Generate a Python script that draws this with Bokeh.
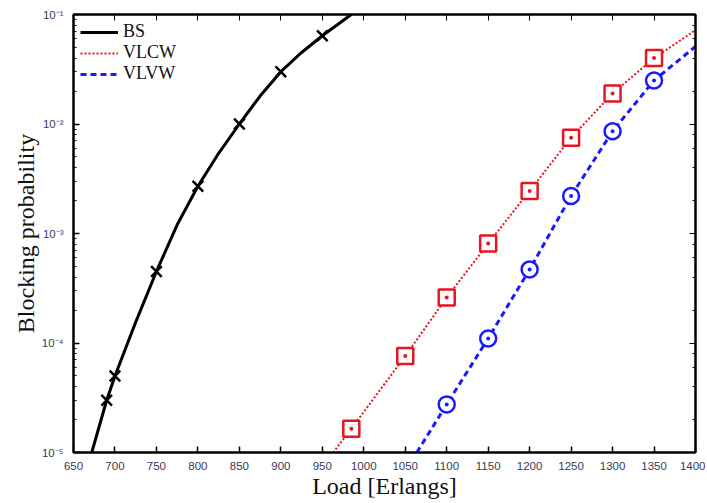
from bokeh.plotting import figure
from bokeh.embed import file_html
from bokeh.resources import INLINE
from bokeh.models import (LogAxis, LinearAxis, Legend, LegendItem,
                          CustomJSTickFormatter, FixedTicker, LogTicker)

# ---- data ----
x_ticks = [650, 700, 750, 800, 850, 900, 950, 1000, 1050, 1100, 1150,
           1200, 1250, 1300, 1350, 1400]

bs_curve_load = [672, 690, 700, 725, 750, 775, 800, 825, 850, 875, 900, 925, 950, 985]
bs_curve_val = [1.0e-5, 3.0e-5, 5.0e-5, 1.55e-4, 4.5e-4, 1.2e-3, 2.7e-3, 5.4e-3,
                1.0e-2, 1.8e-2, 3.0e-2, 4.5e-2, 6.4e-2, 1.0e-1]
bs_pts_load = [690, 700, 750, 800, 850, 900, 950]
bs_pts_val = [3.0e-5, 5.0e-5, 4.5e-4, 2.7e-3, 1.0e-2, 3.0e-2, 6.4e-2]

vlcw_line_load = [963, 985, 1050, 1100, 1150, 1200, 1250, 1300, 1350, 1400]
vlcw_line_val = [1.0e-5, 1.65e-5, 7.6e-5, 2.6e-4, 8.1e-4, 2.45e-3, 7.5e-3, 1.9e-2, 4.0e-2, 7.2e-2]
vlcw_pts_load = [985, 1050, 1100, 1150, 1200, 1250, 1300, 1350]
vlcw_pts_val = [1.65e-5, 7.6e-5, 2.6e-4, 8.1e-4, 2.45e-3, 7.5e-3, 1.9e-2, 4.0e-2]

vlvw_line_load = [1064, 1100, 1150, 1200, 1250, 1300, 1350, 1400]
vlvw_line_val = [1.0e-5, 2.75e-5, 1.1e-4, 4.7e-4, 2.2e-3, 8.6e-3, 2.5e-2, 5.1e-2]
vlvw_pts_load = [1100, 1150, 1200, 1250, 1300, 1350]
vlvw_pts_val = [2.75e-5, 1.1e-4, 4.7e-4, 2.2e-3, 8.6e-3, 2.5e-2]

RED = "#e8141e"
BLUE = "#1a1aff"
TICK_COLOR = "#3a3a5a"
SERIF = "Liberation Serif"

p = figure(width=705, height=501, y_axis_type="log",
           x_range=(650, 1400), y_range=(1e-5, 1e-1),
           output_backend="svg", toolbar_location=None,
           min_border_left=73, min_border_right=10, min_border_top=14,
           min_border_bottom=47)
p.grid.visible = False
p.outline_line_color = "black"
p.outline_line_width = 2

sup = """
const sup = {"-":"\u207b","0":"\u2070","1":"\u00b9","2":"\u00b2","3":"\u00b3",
             "4":"\u2074","5":"\u2075","6":"\u2076","7":"\u2077","8":"\u2078","9":"\u2079"};
const e = Math.round(Math.log10(tick));
return "10" + String(e).split("").map(c => sup[c]).join("");
"""

# main axes
xa = p.xaxis[0]
xa.ticker = FixedTicker(ticks=x_ticks)
ya = p.yaxis[0]
ya.formatter = CustomJSTickFormatter(code=sup)
for ax in (xa, ya):
    ax.axis_line_width = 2
    ax.major_tick_in = 6
    ax.major_tick_out = 0
    ax.minor_tick_in = 3
    ax.minor_tick_out = 0
    ax.major_tick_line_width = 1.5
    ax.major_label_text_font = "Liberation Sans"
    ax.major_label_text_font_size = "11.5px"
    ax.major_label_text_color = TICK_COLOR
    ax.axis_label_text_font = SERIF
    ax.axis_label_text_font_size = "24px"
    ax.axis_label_text_font_style = "normal"
    ax.axis_label_text_color = "#111111"
xa.major_label_standoff = 9
ya.major_label_standoff = 10
xa.axis_label = "Load [Erlangs]"
ya.axis_label = "Blocking probability"
xa.axis_label_standoff = 0
ya.axis_label_standoff = 0

# mirror axes (top, right) with ticks only
top = LinearAxis(ticker=FixedTicker(ticks=x_ticks),
                 formatter=CustomJSTickFormatter(code="return '';"))
right = LogAxis(ticker=LogTicker(),
                formatter=CustomJSTickFormatter(code="return '';"))
for ax in (top, right):
    ax.axis_line_width = 2
    ax.major_tick_in = 6
    ax.major_tick_out = 0
    ax.minor_tick_in = 3
    ax.minor_tick_out = 0
    ax.major_label_standoff = 0
p.add_layout(top, "above")
p.add_layout(right, "right")

# series
bs_line = p.line(bs_curve_load, bs_curve_val, color="black", line_width=3)
p.scatter(bs_pts_load, bs_pts_val, marker="x", size=15, line_width=2.5,
          color="black")

vlcw_line = p.line(vlcw_line_load, vlcw_line_val, color=RED, line_width=2,
                   line_dash="2 2")
p.scatter(vlcw_pts_load, vlcw_pts_val, marker="square_dot", size=16,
          line_width=2.5, line_color=RED, fill_color="white")

vlvw_line = p.line(vlvw_line_load, vlvw_line_val, color=BLUE, line_width=3,
                   line_dash="6 4")
p.scatter(vlvw_pts_load, vlvw_pts_val, marker="circle_dot", size=16,
          line_width=2.5, line_color=BLUE, fill_color="white")

legend = Legend(items=[LegendItem(label="BS", renderers=[bs_line]),
                       LegendItem(label="VLCW", renderers=[vlcw_line]),
                       LegendItem(label="VLVW", renderers=[vlvw_line])],
                location="top_left")
legend.border_line_alpha = 0
legend.background_fill_alpha = 0
legend.label_text_font = SERIF
legend.label_text_font_size = "18px"
legend.label_text_color = "#111111"
legend.label_height = 14
legend.glyph_height = 14
legend.glyph_width = 38
legend.spacing = -3
legend.padding = 2
legend.margin = 5
p.add_layout(legend)

open("out.html", "w").write(file_html(p, INLINE))
